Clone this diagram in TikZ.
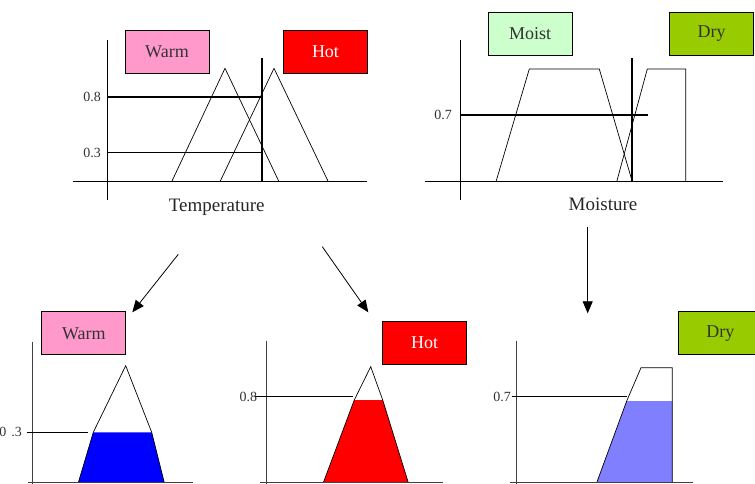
\documentclass[tikz,border=0pt]{standalone}
\usepackage{fontspec}
\setmainfont{Liberation Serif}
\usepackage{tikz}
\usetikzlibrary{
  arrows.meta,
  positioning,
}
\definecolor{warmCol}{HTML}{FF99CC}
\definecolor{hotCol}{HTML}{FF0000}
\definecolor{moistCol}{HTML}{CCFFCC}
\definecolor{dryCol}{HTML}{99CC00}
\definecolor{warmCut}{HTML}{0000FF}
\definecolor{dryCut}{HTML}{8080FF}
\tikzset{
  setbox/.style 2 args={
    rectangle, draw=black, line width=0.8pt, fill=#1, text=#2,
    minimum width=84pt, minimum height=43pt, inner sep=0pt,
    font=\fontsize{18}{20}\selectfont,
  },
  axisline/.style={line width=0.9pt, draw=black},
  axisthin/.style={line width=0.8pt, draw=black!75},
  mfline/.style={line width=0.7pt, draw=black},
  cutline/.style={line width=2pt, draw=black},
  ticklab/.style={font=\fontsize{14}{16}\selectfont, text=black!80, inner sep=0pt},
  varlab/.style={font=\fontsize{19}{21}\selectfont, text=black!85, inner sep=0pt, anchor=base},
  arrowFlow/.style={-{Triangle[length=12pt,width=10pt]}, line width=0.8pt, draw=black},
}

\begin{document}
\begin{tikzpicture}[x=1pt, y=-1pt]
\useasboundingbox (0,0) rectangle (755,484);
\clip (0,0) rectangle (755,484);

% Temperature chart
\draw[axisline] (107.7,40) -- (107.7,200);
\draw[axisline] (73,181.7) -- (367,181.7);
\draw[mfline] (171.7,181.7) -- (225,68.3) -- (279,181.7);
\draw[mfline] (220,181.7) -- (274,68.3) -- (328.3,181.7);
\draw[cutline] (107.7,96.7) -- (262.3,96.7);
\draw[mfline] (107.7,152.7) -- (262.3,152.7);
\draw[cutline] (262.3,58.3) -- (262.3,181.7);
\node[ticklab, anchor=east] (tempeight) at (101,96.7) {0.8};
\node[ticklab, anchor=east] (tempthree) at (101,152.7) {0.3};
\node[varlab] (templab) at (216.7,211.7) {Temperature};
\node[setbox={warmCol}{black!80}] (warmtop) at (167,51.7) {Warm};
\node[setbox={hotCol}{white}] (hottop) at (325.5,51.7) {Hot};

% Moisture chart
\draw[axisline] (460,40) -- (460,200);
\draw[axisline] (425,181.7) -- (723.3,181.7);
\draw[mfline] (496,181.7) -- (529.3,69) -- (599.3,69) -- (632.3,181.7);
\draw[mfline] (616.7,181.7) -- (647.3,69) -- (685.7,69) -- (685.7,181.7);
\draw[cutline] (460,115) -- (648.3,115);
\draw[cutline] (632.3,58.3) -- (632.3,181.7);
\node[ticklab, anchor=east] (moistseven) at (452,115) {0.7};
\node[varlab] (moistlab) at (603,210) {Moisture};
\node[setbox={moistCol}{black!80}] (moisttop) at (530,33.7) {Moist};
\node[setbox={dryCol}{black!80}] (drytop) at (711.7,33.7) {Dry};

% Arrows down to the clipped sets
\coordinate (warmtail) at (178.3,254.3);
\coordinate (warmtip) at (132.3,312.3);
\coordinate (hottail) at (322.3,246.7);
\coordinate (hottip) at (368.3,312.3);
\coordinate (drytail) at (587.7,226.7);
\coordinate (drytip) at (587.7,313.3);
\draw[arrowFlow] (warmtail) -- (warmtip);
\draw[arrowFlow] (hottail) -- (hottip);
\draw[arrowFlow] (drytail) -- (drytip);

% Warm cut at 0.3
\fill[warmCut] (78.3,482.7) -- (93.3,432.3) -- (151.7,432.3) -- (164.3,482.7) -- cycle;
\draw[mfline] (78.3,482.7) -- (93.3,432.3) -- (125.7,365.7) -- (151.7,432.3) -- (164.3,482.7);
\draw[axisthin] (32.7,341.7) -- (32.7,490);
\draw[axisthin] (28,482.7) -- (192.7,482.7);
\draw[mfline] (26.7,432.3) -- (88.3,432.3);
\node[ticklab, anchor=east] (warmthree) at (22,432.3) {0\kern5pt.3};
\node[setbox={warmCol}{black!80}] (warmbot) at (83.8,333.3) {Warm};

% Hot cut at 0.8
\fill[hotCol] (323.3,482.7) -- (354.3,400) -- (382.7,400) -- (408.3,482.7) -- cycle;
\draw[mfline] (323.3,482.7) -- (354.3,400) -- (370.7,366.7) -- (382.7,400) -- (408.3,482.7);
\draw[axisthin] (266.7,340.7) -- (266.7,490);
\draw[axisthin] (260,482.7) -- (443.3,482.7);
\node[ticklab, anchor=west] (hoteight) at (239.3,396.7) {0.8};
\draw[mfline] (255,396.7) -- (353.3,396.7);
\node[setbox={hotCol}{white}] (hotbot) at (424.5,342.5) {Hot};

% Dry cut at 0.7
\fill[dryCut] (596.7,482.7) -- (626.7,401) -- (672.3,401) -- (672.3,482.7) -- cycle;
\draw[mfline] (596.7,482.7) -- (626.7,401) -- (641,367.7) -- (672.3,367.7) -- (672.3,482.7);
\draw[axisthin] (516.7,340.7) -- (516.7,490);
\draw[axisthin] (510,482.7) -- (693.3,482.7);
\draw[mfline] (511.7,396.7) -- (626.7,396.7);
\node[ticklab, anchor=east] (dryseven) at (511,396.7) {0.7};
\node[setbox={dryCol}{black!80}] (drybot) at (720.3,333.3) {Dry};

\end{tikzpicture}
\end{document}
